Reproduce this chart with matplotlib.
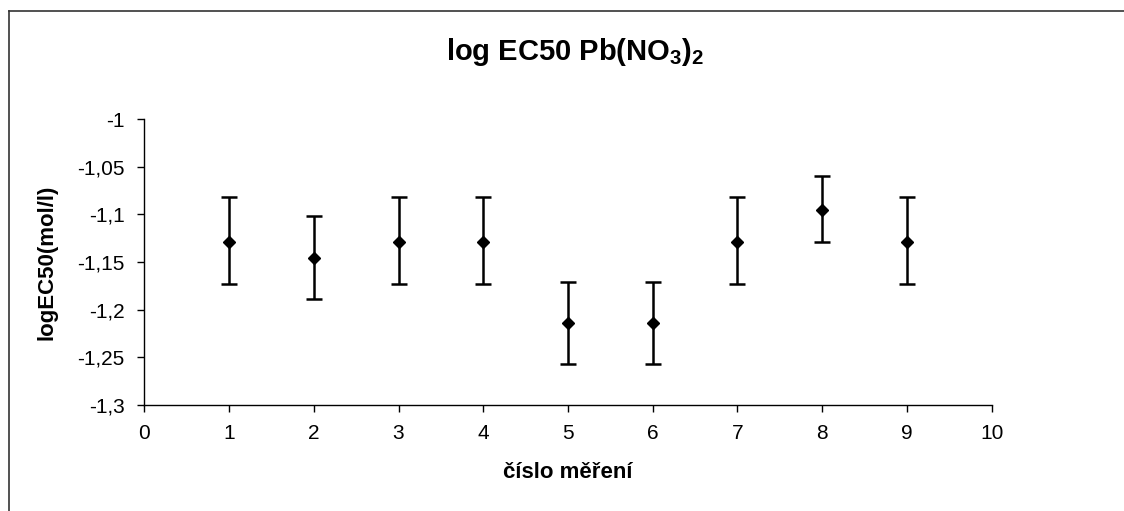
import matplotlib
matplotlib.use("Agg")
import matplotlib.pyplot as plt
from matplotlib.ticker import FuncFormatter, MultipleLocator
from matplotlib.lines import Line2D

plt.rcParams['font.family'] = ['Liberation Sans', 'DejaVu Sans']
plt.rcParams['mathtext.fontset'] = 'custom'
plt.rcParams['mathtext.rm'] = 'Liberation Sans:bold'
plt.rcParams['mathtext.bf'] = 'Liberation Sans:bold'
plt.rcParams['mathtext.default'] = 'bf'

measurements = [1, 2, 3, 4, 5, 6, 7, 8, 9]
log_ec50 = [-1.129, -1.146, -1.129, -1.129, -1.214, -1.214, -1.129, -1.095, -1.129]
err_low = [0.044, 0.043, 0.044, 0.044, 0.043, 0.043, 0.044, 0.034, 0.044]
err_high = [0.047, 0.044, 0.047, 0.047, 0.043, 0.043, 0.047, 0.035, 0.047]

title = "log EC50 Pb(NO$_3$)$_2$"
xlabel = "číslo měření"
ylabel = "logEC50(mol/l)"

fig = plt.figure(figsize=(11.24, 5.11), dpi=100)
ax = fig.add_axes([144.3/1124, 1-405/511, (991.7-144.3)/1124, (405-119)/511])

ax.errorbar(measurements, log_ec50, yerr=[err_low, err_high], fmt='D', color='black',
            ecolor='black', elinewidth=1.8, capsize=6, capthick=1.8, markersize=6.5)

ax.set_xlim(0, 10)
ax.set_ylim(-1.3, -1.0)
ax.xaxis.set_major_locator(MultipleLocator(1))
ax.yaxis.set_major_locator(MultipleLocator(0.05))
ax.yaxis.set_major_formatter(FuncFormatter(lambda v, p: f"{round(v, 2):g}".replace('.', ',')))
ax.spines['top'].set_visible(False)
ax.spines['right'].set_visible(False)
for s in ['left', 'bottom']:
    ax.spines[s].set_linewidth(1.0)
ax.tick_params(direction='out', length=5, width=1.0, labelsize=15, pad=9)

ax.set_xlabel(xlabel, fontsize=16, fontweight='bold', labelpad=13)
ax.set_ylabel(ylabel, fontsize=16, fontweight='bold', labelpad=14)
fig.text(575/1124, 1-52/511, title, fontsize=21, fontweight='bold', ha='center', va='center')

fig.add_artist(Line2D([9/1124, 9/1124], [0, 1-11/511], transform=fig.transFigure, color='#333333', lw=1.2))
fig.add_artist(Line2D([9/1124, 1], [1-11/511, 1-11/511], transform=fig.transFigure, color='#333333', lw=1.2))

fig.savefig("out.png", dpi=100)
